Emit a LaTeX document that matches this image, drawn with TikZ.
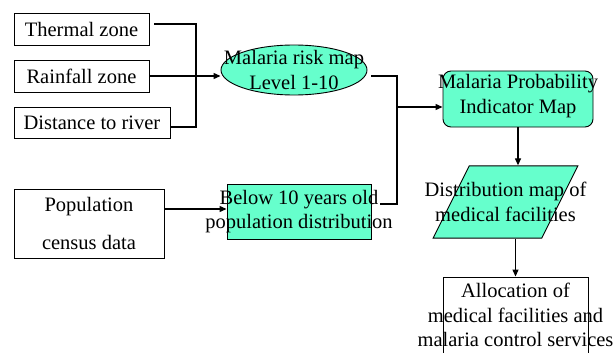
\documentclass[tikz,border=0pt]{standalone}
\usepackage{fontspec}
\setmainfont{Liberation Serif}
\usetikzlibrary{arrows.meta,positioning,shapes.geometric,calc}
\definecolor{mapgreen}{RGB}{102,255,204}
\newcommand{\mapfont}{\fontsize{20.5}{24.5}\selectfont}
\tikzset{
  databox/.style={draw,line width=0.9pt,inner sep=0pt,align=center,font=\mapfont},
  mapbox/.style={databox,fill=mapgreen},
  maptext/.style={inner sep=0pt,align=center,font=\mapfont},
  link/.style={line width=1.2pt},
  flow/.style={link,-{Triangle[length=7pt,width=6pt]}}
}

\begin{document}
\begin{tikzpicture}[x=1pt,y=-1pt]
  \useasboundingbox (0,0) rectangle (616,353);
  % Input layers
  \node[databox,minimum width=135pt,minimum height=32pt] (thermal) at (81.5,29) {Thermal zone};
  \node[databox,minimum width=135pt,minimum height=32pt] (rainfall) at (81.5,76) {Rainfall zone};
  \node[databox,minimum width=156pt,minimum height=31pt] (river) at (92,122.5) {Distance to river};
  \node[databox,minimum width=150pt,minimum height=69pt,font=\fontsize{20.5}{38}\selectfont]
        (census) at (89,223.5) {Population\\census data};
  % Derived maps
  \node[mapbox,ellipse,minimum width=146pt,minimum height=50pt,
        label={[maptext]center:Malaria risk map\\Level 1-10}] (risk) at (294,70) {};
  \node[mapbox,minimum width=144pt,minimum height=55pt,
        label={[maptext]center:Below 10 years old\\population distribution}] (below) at (299,211.5) {};
  \node[mapbox,rounded corners=8pt,minimum width=150pt,minimum height=56pt,
        label={[maptext,yshift=3pt]center:Malaria Probability\\Indicator Map}] (prob) at (518,99) {};
  \node[mapbox,trapezium,trapezium left angle=63.4,trapezium right angle=116.6,
        inner sep=2pt,minimum width=145pt,minimum height=58pt,
        label={[maptext]center:Distribution map of\\medical facilities}] (facility) at (505.5,202) {};
  \node[databox,minimum width=145pt,minimum height=103pt,
        label={[maptext,yshift=13.5pt]center:Allocation of\\medical facilities and\\malaria control services}]
        (alloc) at (515.5,328.5) {};
  % Connectors
  \coordinate (fork) at (196,76);
  \coordinate (merge) at (397,107);
  \coordinate (censusout) at ([yshift=14.5pt]census.east);
  \draw[link] ([xshift=5pt,yshift=5pt]thermal.east) -| (fork) |- ([yshift=-4.5pt]river.east);
  \draw[flow] (rainfall.east) -- (rainfall.east -| risk.west);
  \draw[link] ([xshift=4pt,yshift=-6pt]risk.east) -| (merge) |- ([xshift=9pt,yshift=7.5pt]below.east);
  \draw[flow] (merge) -- (merge -| prob.west);
  \draw[flow] (censusout) -- (censusout -| below.west);
  \draw[flow] (prob.south) -- (prob.south |- facility.north);
  \draw[flow] (alloc.north |- facility.south) -- (alloc.north);
\end{tikzpicture}
\end{document}
